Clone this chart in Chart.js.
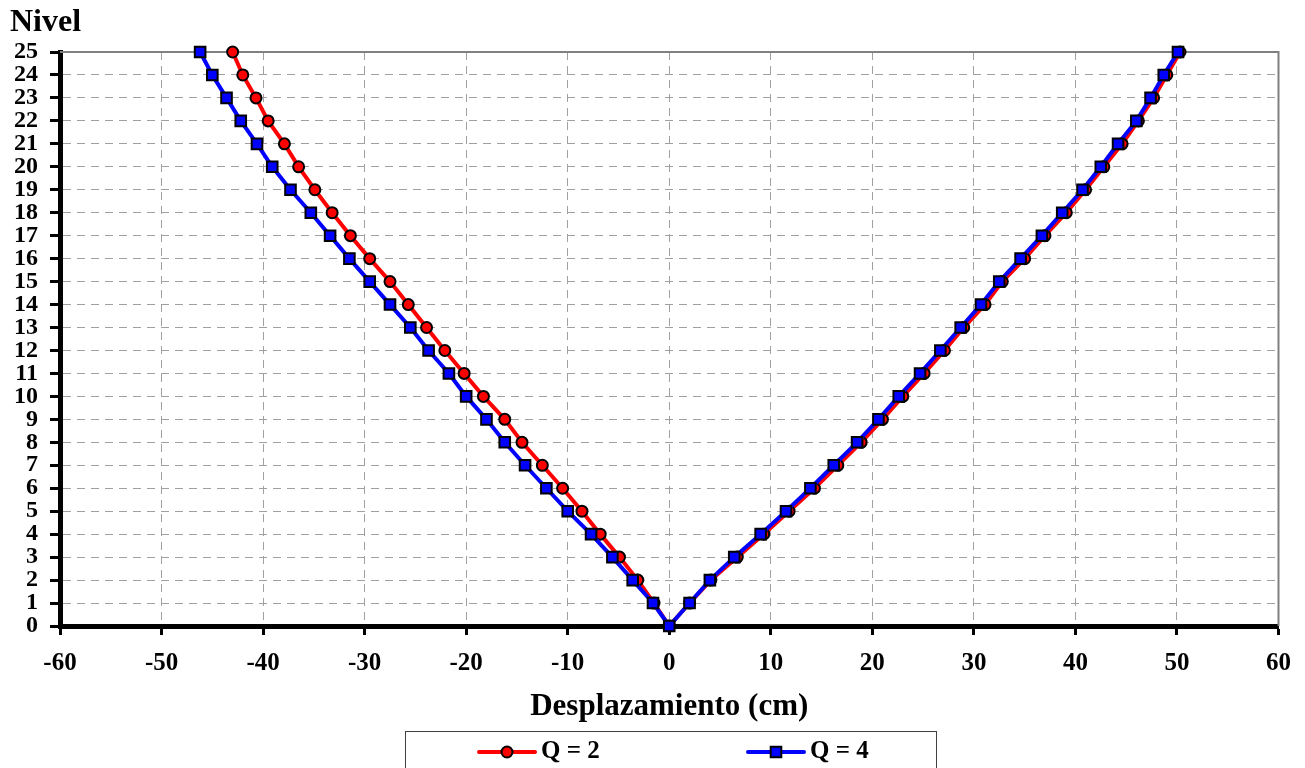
<!DOCTYPE html>
<html>
<head>
<meta charset="utf-8">
<script src="https://cdn.jsdelivr.net/npm/chart.js@4.4.0/dist/chart.umd.min.js"></script>
<style>
  html, body { margin: 0; padding: 0; background: #fff; }
  #wrap { width: 1305px; height: 768px; }
</style>
</head>
<body>
<div id="wrap"><canvas id="chart" width="1305" height="768"></canvas></div>
<script>
// niveles (eje Y)
const niveles = [0, 1, 2, 3, 4, 5, 6, 7, 8, 9, 10, 11, 12, 13, 14, 15, 16, 17, 18, 19, 20, 21, 22, 23, 24, 25];

// desplazamientos (cm), Q = 2
const q2Neg = [0, -1.5, -3.1, -4.9, -6.8, -8.6, -10.5, -12.5, -14.5, -16.2, -18.3, -20.2, -22.1,
               -23.9, -25.7, -27.5, -29.5, -31.4, -33.2, -34.9, -36.5, -37.9, -39.5, -40.7, -42.0, -43.0];
const q2Pos = [0, 2.0, 4.1, 6.7, 9.3, 11.8, 14.3, 16.6, 18.9, 21.0, 23.0, 25.1, 27.1,
               29.0, 31.1, 32.8, 35.0, 37.0, 39.1, 41.0, 42.8, 44.6, 46.2, 47.7, 49.0, 50.3];

// desplazamientos (cm), Q = 4
const q4Neg = [0, -1.6, -3.6, -5.6, -7.7, -10.0, -12.1, -14.2, -16.2, -18.0, -20.0, -21.7, -23.7,
               -25.5, -27.5, -29.5, -31.5, -33.4, -35.3, -37.3, -39.1, -40.6, -42.2, -43.6, -45.0, -46.2];
const q4Pos = [0, 2.0, 4.0, 6.4, 9.0, 11.5, 13.9, 16.2, 18.5, 20.6, 22.6, 24.7, 26.7,
               28.7, 30.7, 32.5, 34.6, 36.7, 38.7, 40.7, 42.5, 44.2, 46.0, 47.4, 48.7, 50.1];

const xTicks = [-60, -50, -40, -30, -20, -10, 0, 10, 20, 30, 40, 50, 60];
const serieNames = ['Q = 2', 'Q = 4'];

// recorrido: rama negativa de arriba a 0, luego rama positiva hacia arriba
const buildPath = (neg, pos) => {
    const pts = [];
    for (let i = niveles.length - 1; i >= 0; i--) pts.push({ x: neg[i], y: niveles[i] });
    for (let i = 1; i < niveles.length; i++) pts.push({ x: pos[i], y: niveles[i] });
    return pts;
};

const FONT = "'Liberation Serif', 'Times New Roman', serif";
Chart.defaults.font.family = FONT;
Chart.defaults.color = '#000';

// titulo "Nivel", borde del area y leyenda
const extras = {
    id: 'extras',
    beforeDatasetsDraw(chart) {
        const { ctx, chartArea: a } = chart;
        ctx.save();
        ctx.strokeStyle = '#808080';
        ctx.lineWidth = 2;
        ctx.beginPath();
        ctx.moveTo(a.left, a.top);
        ctx.lineTo(a.right, a.top);
        ctx.lineTo(a.right, a.bottom);
        ctx.stroke();
        ctx.restore();
    },
    afterDraw(chart) {
        const { ctx } = chart;
        ctx.save();
        ctx.fillStyle = '#000';
        ctx.font = 'bold 32px ' + FONT;
        ctx.textBaseline = 'alphabetic';
        ctx.fillText('Nivel', 10, 31);

        // leyenda
        const box = { left: 405, top: 731, width: 531, height: 50 };
        ctx.strokeStyle = '#404040';
        ctx.lineWidth = 1;
        ctx.strokeRect(box.left + 0.5, box.top + 0.5, box.width, box.height);
        const cy = 752;
        chart.data.datasets.forEach((ds, i) => {
            const x0 = box.left + 74 + i * 269;
            ctx.strokeStyle = ds.borderColor;
            ctx.lineWidth = 4;
            ctx.lineCap = 'round';
            ctx.beginPath();
            ctx.moveTo(x0, cy);
            ctx.lineTo(x0 + 56, cy);
            ctx.stroke();
            ctx.lineCap = 'butt';
            ctx.fillStyle = ds.pointBackgroundColor;
            ctx.strokeStyle = ds.pointBorderColor;
            ctx.lineWidth = ds.pointBorderWidth;
            Chart.helpers.drawPoint(ctx, {
                pointStyle: ds.pointStyle, radius: ds.pointRadius, borderWidth: ds.pointBorderWidth, rotation: 0
            }, x0 + 28, cy);
            ctx.fillStyle = '#000';
            ctx.font = 'bold 25px ' + FONT;
            ctx.textBaseline = 'middle';
            ctx.fillText(ds.label, x0 + 62, cy);
        });
        ctx.restore();
    }
};

new Chart(document.getElementById('chart'), {
    type: 'scatter',
    data: {
        datasets: [
            {
                label: serieNames[0],
                data: buildPath(q2Neg, q2Pos),
                showLine: true,
                borderColor: '#ff0000',
                borderWidth: 4,
                pointStyle: 'circle',
                pointRadius: 5.5,
                pointBackgroundColor: '#ff0000',
                pointBorderColor: '#000',
                pointBorderWidth: 2,
                order: 1,
                clip: false
            },
            {
                label: serieNames[1],
                data: buildPath(q4Neg, q4Pos),
                showLine: true,
                borderColor: '#0000ff',
                borderWidth: 4,
                pointStyle: 'rect',
                pointRadius: 7.5,
                pointBackgroundColor: '#0000ff',
                pointBorderColor: '#000',
                pointBorderWidth: 2,
                order: 0,
                clip: false
            }
        ]
    },
    options: {
        responsive: false,
        animation: false,
        devicePixelRatio: 1,
        layout: { padding: { top: 52, right: 26, bottom: 42, left: 0 } },
        plugins: {
            legend: { display: false },
            tooltip: { enabled: false },
            title: { display: false }
        },
        scales: {
            x: {
                type: 'linear',
                min: -60,
                max: 60,
                afterFit: s => { s.height = 100; },
                afterBuildTicks: s => { s.ticks = xTicks.map(v => ({ value: v })); },
                ticks: {
                    font: { size: 25, weight: 'bold' },
                    padding: 14,
                    maxRotation: 0
                },
                grid: {
                    color: '#a0a0a0',
                    lineWidth: 1,
                    tickColor: '#000',
                    tickWidth: 3,
                    tickLength: 9
                },
                border: { color: '#000', width: 5, dash: [8, 6] },
                title: {
                    display: true,
                    text: 'Desplazamiento (cm)',
                    font: { size: 31, weight: 'bold' },
                    padding: { top: 0, bottom: 0 }
                }
            },
            y: {
                type: 'linear',
                min: 0,
                max: 25,
                afterFit: s => { s.width = 60; },
                afterBuildTicks: s => { s.ticks = niveles.map(v => ({ value: v })); },
                ticks: {
                    font: { size: 24, weight: 'bold' },
                    padding: 12,
                    autoSkip: false
                },
                grid: {
                    color: '#a0a0a0',
                    lineWidth: 1,
                    tickColor: '#000',
                    tickWidth: 3,
                    tickLength: 10
                },
                border: { color: '#000', width: 5, dash: [8, 6] }
            }
        }
    },
    plugins: [extras]
});
</script>
</body>
</html>
